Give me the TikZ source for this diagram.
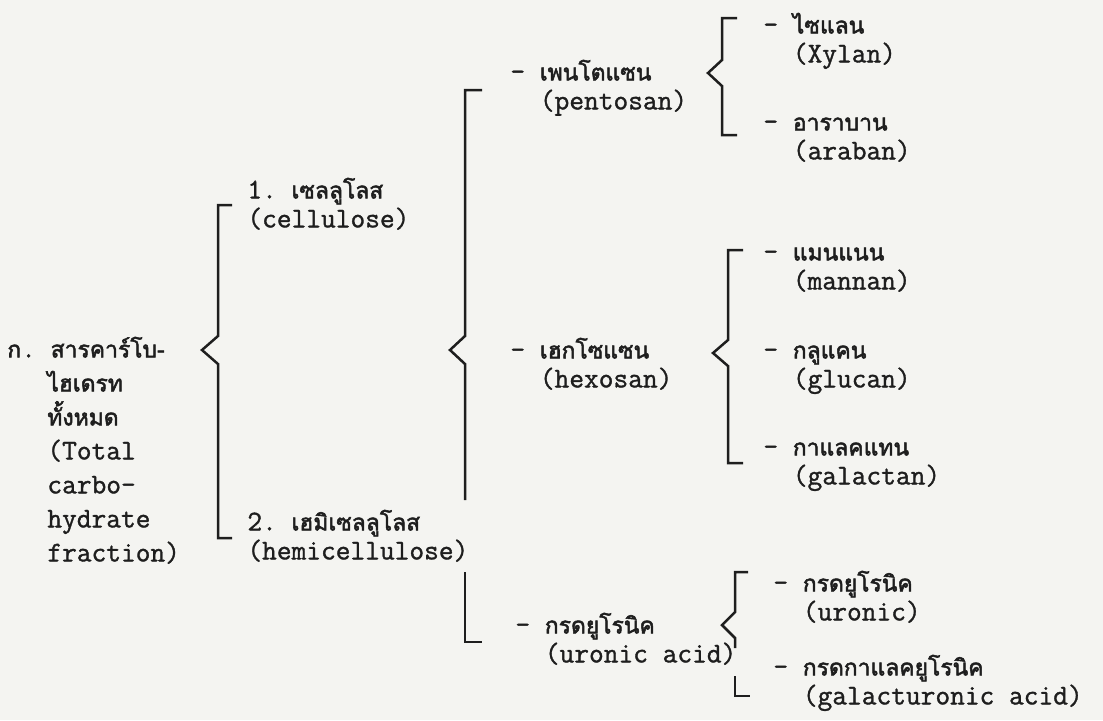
\documentclass[tikz,border=0pt]{standalone}
\usepackage{fontspec}
\usepackage{tikz}
\usepackage{xcolor}
\setmonofont[RawFeature={embolden=1.2}]{Latin Modern Mono}
\newfontfamily\thaif[Script=Thai,Scale=0.8,RawFeature={embolden=2.2}]{Loma}
\usetikzlibrary{positioning}
\definecolor{paper}{RGB}{244,244,241}
\definecolor{ink}{RGB}{30,30,30}
\newcommand{\lnstrut}{\rule{0pt}{13pt}}
\newcommand{\dashsp}{\phantom{-}~}
\newcommand{\lblfont}{\ttfamily\fontsize{14.3}{14.5}\selectfont\lineskiplimit-20pt\relax}
\newcommand{\tallfont}{\ttfamily\fontsize{14.3}{17}\selectfont\lineskiplimit-20pt\relax}
\tikzstyle{lbl} = [anchor=north west, inner sep=0pt, align=left, text=ink, font=\lblfont]
\tikzstyle{tall} = [font=\tallfont]
\tikzstyle{brk} = [draw=ink, line width=1.25pt, line join=miter]

\begin{document}
\begin{tikzpicture}[x=0.5pt, y=-0.5pt]
    \useasboundingbox (0,0) rectangle (1103,720);
    \fill[paper] (0,0) rectangle (1103,720);

    % nodes
    \node (total) [lbl, tall] at (7,331) {\lnstrut{\thaif ก}.~{\thaif สารคาร์โบ-}\\
        \hspace*{20pt}{\thaif ไฮเดรท}\\
        \hspace*{20pt}{\thaif ทั้งหมด}\\
        \hspace*{20pt}(Total\\
        \hspace*{20pt}carbo-\\
        \hspace*{20pt}hydrate\\
        \hspace*{20pt}fraction)};
    \node (cellulose) [lbl] at (247,172) {\lnstrut 1.~{\thaif เซลลูโลส}\\(cellulose)};
    \node (hemi) [lbl] at (247,504) {\lnstrut 2.~{\thaif เฮมิเซลลูโลส}\\(hemicellulose)};

    \node (pentosan) [lbl] at (510,54) {\lnstrut -~{\thaif เพนโตแซน}\\\dashsp(pentosan)};
    \node (hexosan) [lbl] at (510,332) {\lnstrut -~{\thaif เฮกโซแซน}\\\dashsp(hexosan)};
    \node (uronicacid) [lbl] at (515,607) {\lnstrut -~{\thaif กรดยูโรนิค}\\\dashsp(uronic acid)};

    \node (xylan) [lbl] at (763,7) {\lnstrut -~{\thaif ไซแลน}\\\dashsp(Xylan)};
    \node (araban) [lbl] at (763,104) {\lnstrut -~{\thaif อาราบาน}\\\dashsp(araban)};
    \node (mannan) [lbl] at (763,234) {\lnstrut -~{\thaif แมนแนน}\\\dashsp(mannan)};
    \node (glucan) [lbl] at (763,332) {\lnstrut -~{\thaif กลูแคน}\\\dashsp(glucan)};
    \node (galactan) [lbl] at (763,429) {\lnstrut -~{\thaif กาแลคแทน}\\\dashsp(galactan)};
    \node (uronic) [lbl] at (773,565) {\lnstrut -~{\thaif กรดยูโรนิค}\\\dashsp(uronic)};
    \node (galacturonic) [lbl] at (773,649) {\lnstrut -~{\thaif กรดกาแลคยูโรนิค}\\\dashsp(galacturonic acid)};

    % braces
    \draw [brk] (232,205) -- (218,205) -- (218,336) -- (202,350) -- (218,364) -- (218,538) -- (232,538);
    \draw [brk] (482,90) -- (465,90) -- (465,336) -- (450,350) -- (465,364) -- (465,500);
    \draw [brk] (465,572) -- (465,642) -- (482,642);
    \draw [brk] (737,18) -- (722,18) -- (722,60) -- (708,73) -- (722,86) -- (722,135) -- (737,135);
    \draw [brk] (743,250) -- (728,250) -- (728,340) -- (713,353) -- (728,366) -- (728,463) -- (743,463);
    \draw [brk] (748,572) -- (735,572) -- (735,612) -- (722,625) -- (735,638) -- (735,648);
    \draw [brk] (735,676) -- (735,696) -- (750,696);
\end{tikzpicture}
\end{document}
